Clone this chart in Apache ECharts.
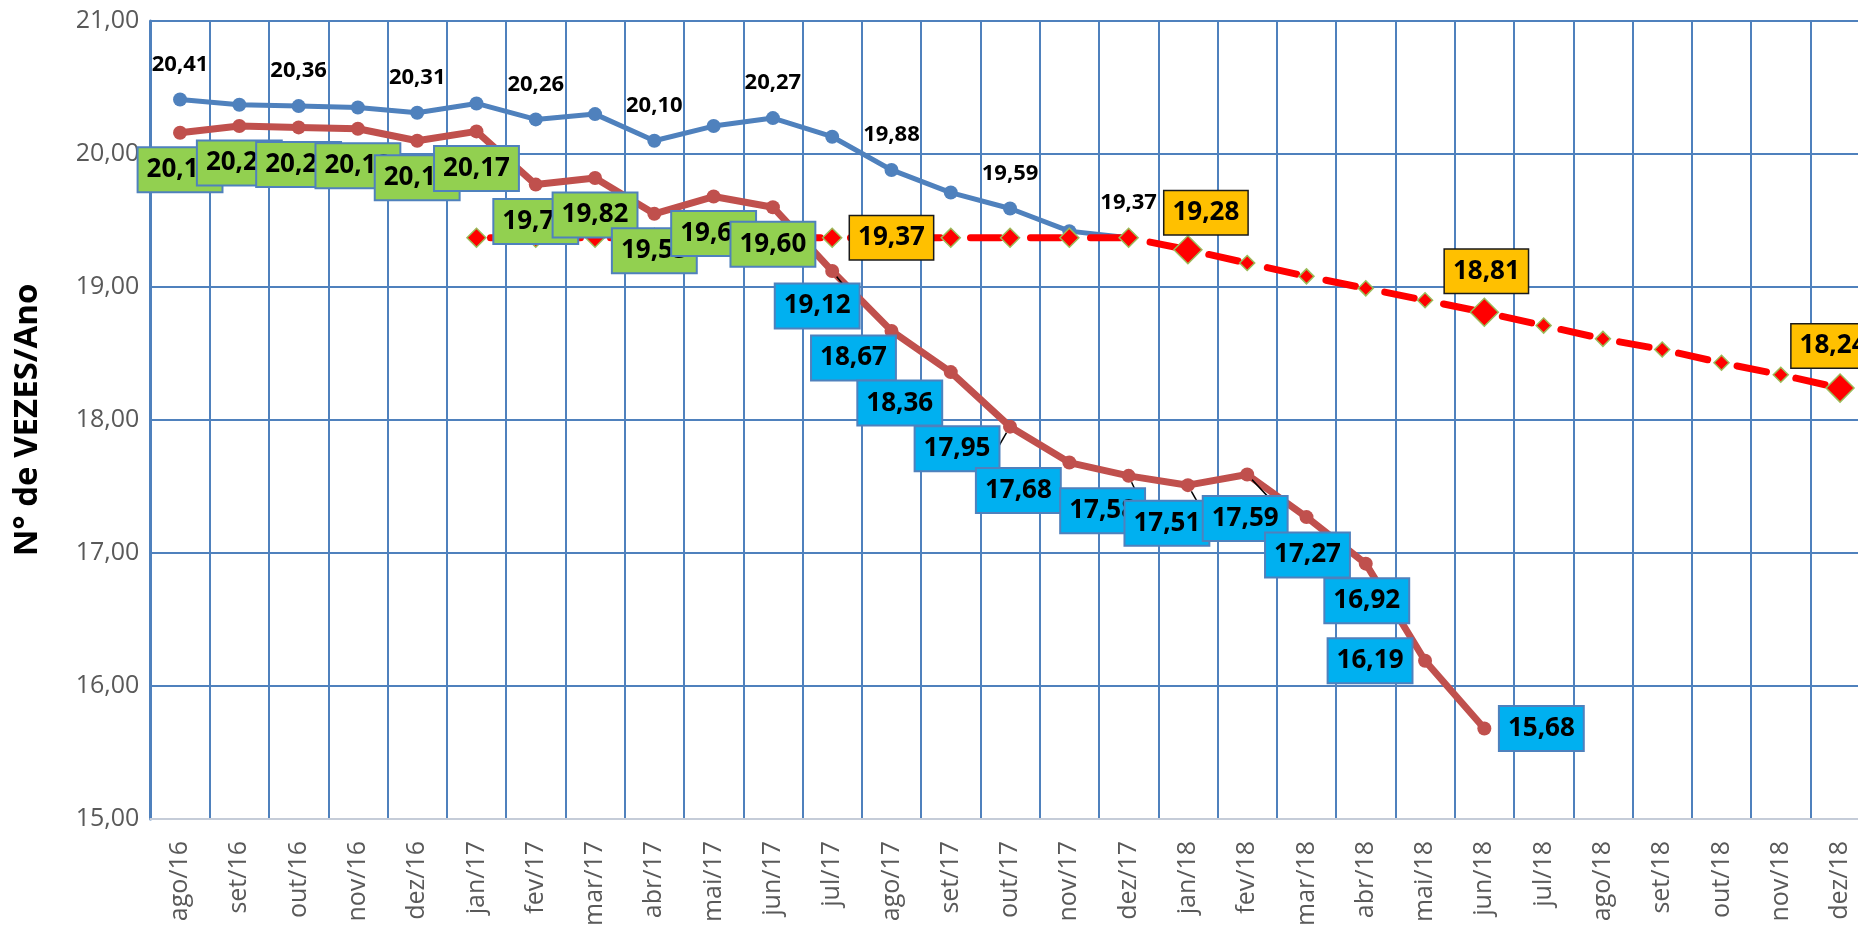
<!DOCTYPE html>
<html><head><meta charset="utf-8">
<script src="https://cdn.jsdelivr.net/npm/echarts@6/dist/echarts.min.js"></script>
<style>html,body{margin:0;padding:0;background:#fff;overflow:hidden}#c{width:1858px;height:926px}</style>
</head><body><div id="c"></div>
<script>
const categories = ['ago/16','set/16','out/16','nov/16','dez/16','jan/17','fev/17','mar/17','abr/17','mai/17','jun/17','jul/17','ago/17','set/17','out/17','nov/17','dez/17','jan/18','fev/18','mar/18','abr/18','mai/18','jun/18','jul/18','ago/18','set/18','out/18','nov/18','dez/18'];
const blueValues = [20.41,20.37,20.36,20.35,20.31,20.38,20.26,20.30,20.10,20.21,20.27,20.13,19.88,19.71,19.59,19.42,19.37];
const brownValues = [20.16,20.21,20.20,20.19,20.10,20.17,19.77,19.82,19.55,19.68,19.60,19.12,18.67,18.36,17.95,17.68,17.58,17.51,17.59,17.27,16.92,16.19,15.68];
const targetValues = [null,null,null,null,null,19.37,19.37,19.37,19.37,19.37,19.37,19.37,19.37,19.37,19.37,19.37,19.37,19.28,19.18,19.08,18.99,18.90,18.81,18.71,18.61,18.53,18.43,18.34,18.24];
const yTicks = [15,16,17,18,19,20,21];

// label layout (styling only)
const brownLabelOffsets = [[0,37],[0,37],[0,37],[0,37],[0,37],[0,37],[0,37],[0,37],[0,37],[0,37],[0,37],
  [-15,35],[-38,27],[-51,31],[-53,22],[-51,28],[-26,35],[-21,38],[-2,44],[1,38],[1,37],[-55,0],[57,0]];
const brownLeader = [11,14,16,17,18];
const targetLabelOffsets = {12:[0,0],17:[18,-37],22:[2,-41],28:[-7,-42]};

const FONT = 'Open Sans';
const fmt = v => v.toFixed(2).replace('.', ',');

const boxBase = {show:true, position:'inside', fontFamily:FONT, fontSize:26, fontWeight:'bold', color:'#000',
  lineHeight:26, padding:[9,8,8,8], borderWidth:2};

const blueData = blueValues.map((v,i) => ({
  value: v,
  label: {show: i % 2 === 0}
}));

const brownData = brownValues.map((v,i) => {
  const green = i <= 10;
  const item = {
    value: v,
    label: Object.assign({}, boxBase, {
      offset: brownLabelOffsets[i],
      backgroundColor: green ? '#92D050' : '#00B0F0',
      borderColor: '#4F81BD',
      formatter: p => fmt(p.value)
    })
  };
  if (brownLeader.indexOf(i) >= 0) {
    item.labelLine = {show:true, lineStyle:{color:'#000', width:1.5}};
  }
  return item;
});

const targetData = targetValues.map((v,i) => {
  if (v === null) return '-';
  const lab = targetLabelOffsets[i];
  const item = {value: v, symbolSize: lab ? 28 : (i <= 16 ? 19 : 15)};
  if (lab) {
    item.label = Object.assign({}, boxBase, {
      offset: lab, backgroundColor:'#FFC000', borderColor:'#1a1a1a', borderWidth:1.5,
      formatter: p => fmt(p.value)
    });
  }
  return item;
});

const chart = echarts.init(document.getElementById('c'), null, {renderer:'canvas'});
chart.setOption({
  animation: false,
  backgroundColor: '#fff',
  grid: {left:150.4, top:21, width:1719.3, height:798, outerBoundsMode:'none', containLabel:false},
  xAxis: {
    type:'category', data: categories, boundaryGap: true,
    axisLine: {show:true, lineStyle:{color:'#C5CCD8', width:2}},
    axisTick: {show:false},
    axisLabel: {interval:0, rotate:90, margin:22, fontFamily:FONT, fontSize:25, color:'#595959'},
    splitLine: {show:true, interval:0, lineStyle:{color:'#4F81BD', width:2}}
  },
  yAxis: {
    type:'value', min: yTicks[0], max: yTicks[yTicks.length-1], interval: 1,
    axisLine: {show:true, lineStyle:{color:'#4F81BD', width:3}},
    axisTick: {show:false},
    axisLabel: {margin:11, fontFamily:FONT, fontSize:25, color:'#595959', formatter: v => fmt(v)},
    splitLine: {show:true, lineStyle:{color:'#4F81BD', width:2}},
    name: 'N° de VEZES/Ano', nameLocation:'middle', nameGap:106,
    nameTextStyle: {fontFamily:FONT, fontSize:33, fontWeight:'bold', color:'#000'}
  },
  series: [
    {
      type:'line', name:'blue', data: blueData, z:1,
      symbol:'circle', symbolSize:14,
      lineStyle:{color:'#4F81BD', width:5},
      itemStyle:{color:'#4F81BD'},
      label:{position:'inside', offset:[0,-35], fontFamily:FONT, fontSize:22, fontWeight:'bold', color:'#000',
        formatter: p => fmt(p.value)}
    },
    {
      type:'line', name:'target', data: targetData, z:2,
      symbol:'diamond',
      lineStyle:{color:'#FF0000', width:7, type:[30,30], cap:'round', dashOffset:-14},
      itemStyle:{color:'#FF0000', borderColor:'#9BBB59', borderWidth:1.5}
    },
    {
      type:'line', name:'brown', data: brownData, z:3,
      symbol:'circle', symbolSize:14,
      lineStyle:{color:'#C0504D', width:7},
      itemStyle:{color:'#C0504D'}
    }
  ]
});
</script></body></html>
